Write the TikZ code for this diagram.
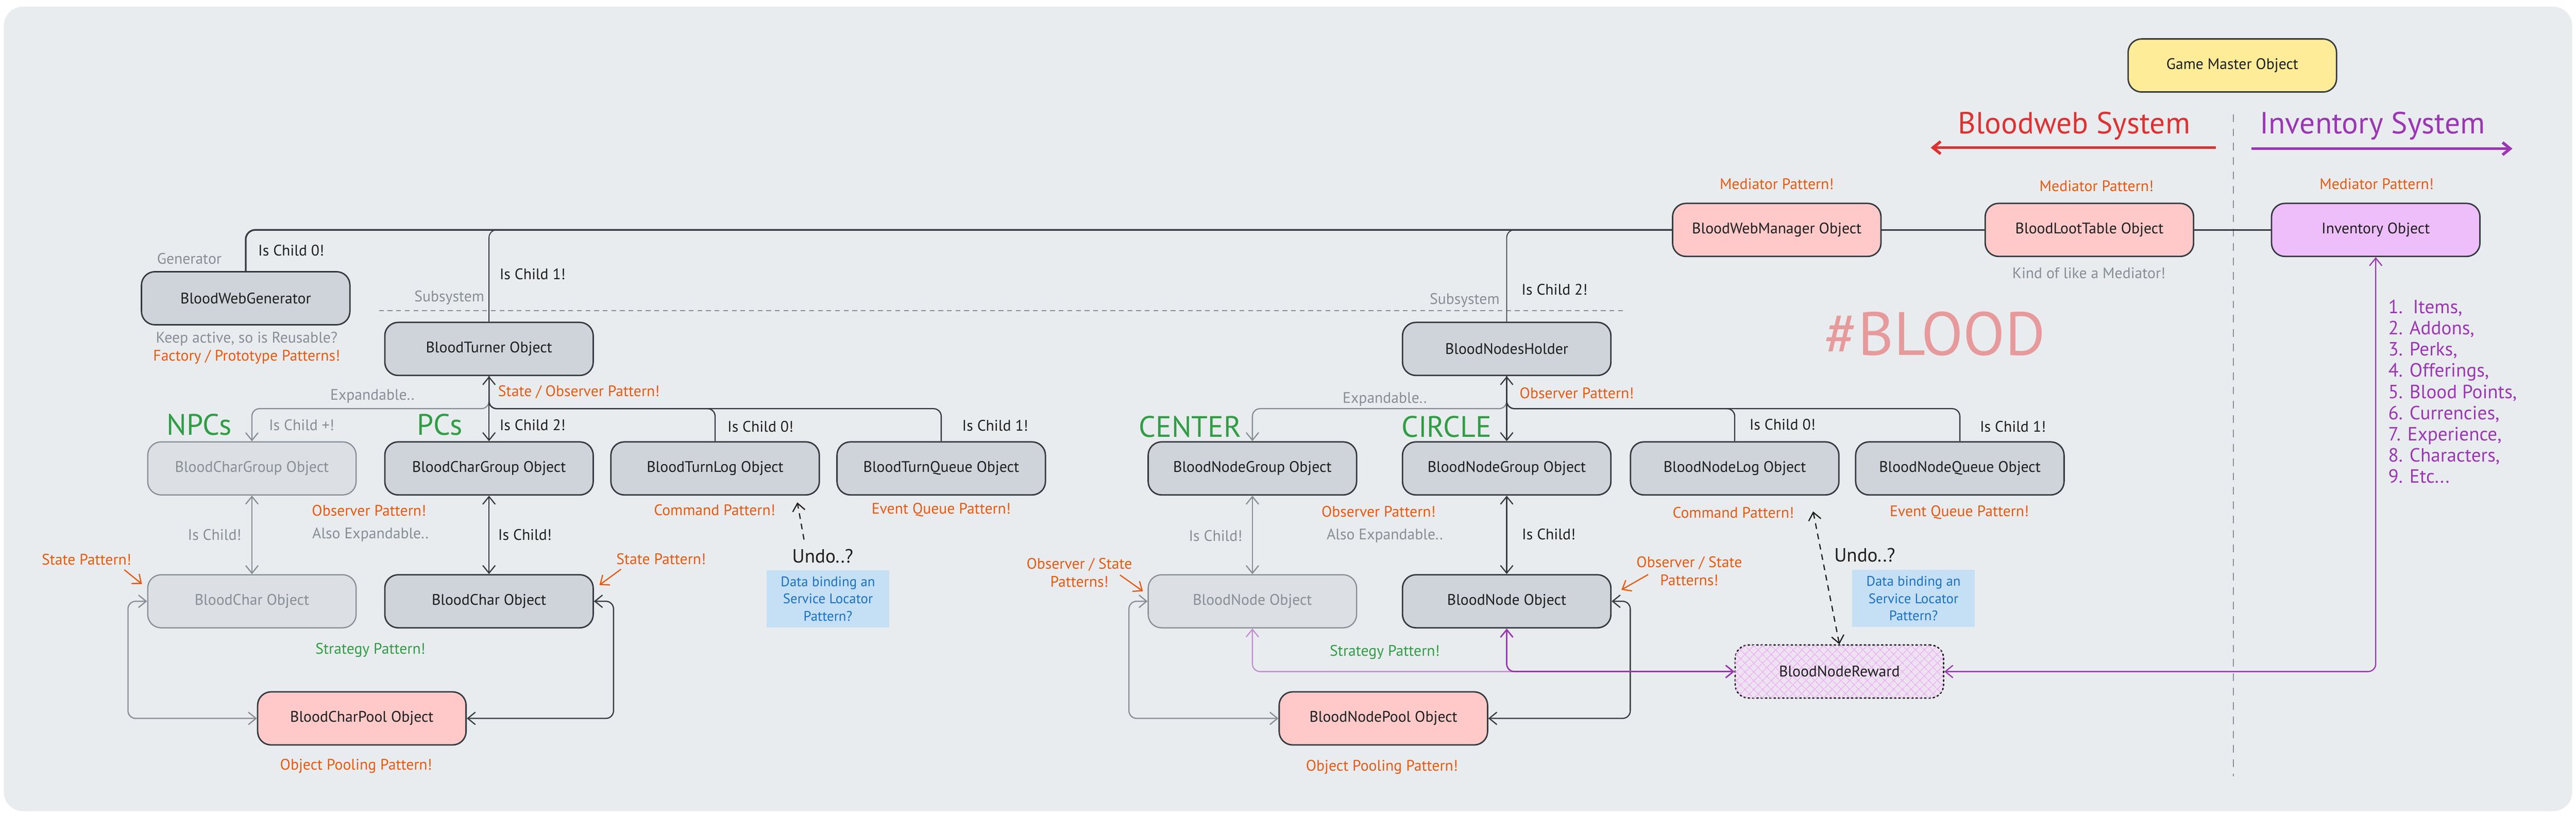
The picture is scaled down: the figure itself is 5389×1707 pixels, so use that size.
\documentclass[tikz,border=0pt]{standalone}
\usepackage{fontspec}
\setmainfont{PT Sans}
\usetikzlibrary{arrows.meta,patterns.meta,calc}
\definecolor{panel}{HTML}{E9ECEF}
\definecolor{dk}{HTML}{343A40}
\definecolor{txt}{HTML}{1E1E1E}
\definecolor{boxfill}{HTML}{CED4DA}
\definecolor{ghostfill}{HTML}{DCDFE3}
\definecolor{gr}{HTML}{868E96}
\definecolor{pinkfill}{HTML}{FFC9C9}
\definecolor{yel}{HTML}{FFEC99}
\definecolor{purpfill}{HTML}{EEBEFA}
\definecolor{hatch}{HTML}{EDAFF7}
\definecolor{purp}{HTML}{9C36B5}
\definecolor{lpurp}{HTML}{C38ED2}
\definecolor{orng}{HTML}{E8590C}
\definecolor{grn}{HTML}{2F9E44}
\definecolor{redt}{HTML}{E03131}
\definecolor{bluet}{HTML}{1971C2}
\definecolor{bluefill}{HTML}{C5DFF5}
\definecolor{bloodc}{HTML}{E79A9B}
\definecolor{rewardfill}{HTML}{EDE3F0}
\newcommand\fsz[2]{\fontsize{#1}{#2}\selectfont}
\begin{document}
\begin{tikzpicture}[x=1pt,y=-1pt,
  >={Straight Barb[length=16pt,width=26pt]},
  box/.style={rectangle, rounded corners=28pt, minimum width=436pt, minimum height=111pt,
    draw=dk, line width=3pt, fill=boxfill, text=txt, font=\fsz{32}{38}, inner sep=0pt},
  ghost/.style={box, draw=gr, fill=ghostfill, text=gr, line width=2.5pt},
  pinkbox/.style={box, fill=pinkfill},
  lbl/.style={font=\fsz{32}{38}, text=txt, inner sep=0pt},
  glbl/.style={lbl, text=gr},
  olbl/.style={lbl, text=orng},
  biglbl/.style={font=\fsz{62}{68}, text=grn, inner sep=0pt},
  conn/.style={draw=dk, line width=2.5pt, rounded corners=16pt},
  gconn/.style={draw=gr, line width=2.5pt, rounded corners=16pt},
  busline/.style={draw=dk, line width=3.5pt, rounded corners=20pt},
  oarrow/.style={draw=orng, line width=2.5pt, ->},
  dasharrow/.style={draw=txt, line width=2.5pt, dash pattern=on 12pt off 10pt},
  note/.style={fill=bluefill, text=bluet, minimum width=256pt, minimum height=120pt,
    align=center, font=\fsz{29}{36}, inner sep=0pt}
]
\useasboundingbox (0,0) rectangle (5389,1707);
\fill[white] (0,0) rectangle (5389,1707);
\fill[panel, rounded corners=40pt] (8,14) rectangle (5381,1697);

% ---------- nodes ----------
\node[box] (gen) at (514,624) {BloodWebGenerator};
\node[box] (turner) at (1023,730) {BloodTurner Object};
\node[box] (holder) at (3152,730) {BloodNodesHolder};
\node[ghost] (npcgroup) at (527,980) {BloodCharGroup Object};
\node[box] (pcgroup) at (1023,980) {BloodCharGroup Object};
\node[box] (turnlog) at (1496,980) {BloodTurnLog Object};
\node[box] (turnqueue) at (1969,980) {BloodTurnQueue Object};
\node[ghost] (npcchar) at (527,1258) {BloodChar Object};
\node[box] (pcchar) at (1023,1258) {BloodChar Object};
\node[pinkbox] (charpool) at (757,1503) {BloodCharPool Object};
\node[box] (centergroup) at (2620,980) {BloodNodeGroup Object};
\node[box] (circlegroup) at (3152,980) {BloodNodeGroup Object};
\node[box] (nodelog) at (3629,980) {BloodNodeLog Object};
\node[box] (nodequeue) at (4100,980) {BloodNodeQueue Object};
\node[ghost] (nodegrey) at (2620,1258) {BloodNode Object};
\node[box] (nodedark) at (3152,1258) {BloodNode Object};
\node[pinkbox] (nodepool) at (2894,1503) {BloodNodePool Object};
\node[pinkbox] (manager) at (3717,481) {BloodWebManager Object};
\node[pinkbox] (loot) at (4371,481) {BloodLootTable Object};
\node[box, fill=purpfill] (inventory) at (4970,481) {Inventory Object};
\node[box, fill=yel] (master) at (4670,137) {Game Master Object};
\node[box, draw=txt, dash pattern=on 3pt off 6pt, line cap=round, fill=rewardfill,
  postaction={pattern={Lines[angle=45,distance=13pt,line width=1.6pt]}, pattern color=hatch},
  postaction={pattern={Lines[angle=-45,distance=13pt,line width=1.6pt]}, pattern color=hatch}]
  (reward) at (3848,1405) {BloodNodeReward};
\node[note] (note1) at (1732,1253) {Data binding an\\Service Locator\\Pattern?};
\node[note] (note2) at (4003,1252) {Data binding an\\Service Locator\\Pattern?};

% ---------- separators ----------
\draw[gr, line width=3pt, dash pattern=on 10pt off 8pt] (793,650) -- (3396,650);
\draw[gr, line width=2pt, dash pattern=on 16pt off 14pt] (4672,239) -- (4672,1624);

% ---------- top bus ----------
\coordinate (busR) at (manager.west);
\draw[busline] (gen.north) |- (busR);
\draw[conn, line width=2pt] (turner.north) |- ($(turner.north |- busR)+(60,0)$);
\draw[conn, line width=2pt] (holder.north) |- ($(holder.north |- busR)+(60,0)$);
\draw[busline] (manager.east) -- (loot.west);
\draw[busline] (loot.east) -- (inventory.west);

% ---------- left tree ----------
\coordinate (j1) at (1023,855);
\draw[gconn, ->] ($(j1)+(0,-25)$) |- (npcgroup.north |- j1) -- (npcgroup.north);
\draw[conn] (turner.south) |- (turnlog.north |- j1) -- (turnlog.north);
\draw[conn] (turner.south) |- (turnqueue.north |- j1) -- (turnqueue.north);
\draw[conn, <->] (turner.south) -- (pcgroup.north);
\draw[gconn, <->] (npcgroup.south) -- (npcchar.north);
\draw[conn, <->] (pcgroup.south) -- (pcchar.north);
\draw[gconn, <->] (npcchar.west) -- ++(-40,0) |- (charpool.west);
\draw[conn, <->] (pcchar.east) -- ++(41,0) |- (charpool.east);

% ---------- right tree ----------
\coordinate (j2) at (3152,855);
\draw[gconn, ->] ($(j2)+(0,-25)$) |- (centergroup.north |- j2) -- (centergroup.north);
\draw[conn] (holder.south) |- (nodelog.north |- j2) -- (nodelog.north);
\draw[conn] (holder.south) |- (nodequeue.north |- j2) -- (nodequeue.north);
\draw[conn, <->] (holder.south) -- (circlegroup.north);
\draw[gconn, <->] (centergroup.south) -- (nodegrey.north);
\draw[conn, <->] (circlegroup.south) -- (nodedark.north);
\draw[gconn, <->] (nodegrey.west) -- ++(-39,0) |- (nodepool.west);
\draw[conn, <->] (nodedark.east) -- ++(39,0) |- (nodepool.east);

% ---------- purple links ----------
\draw[lpurp, line width=2.5pt, rounded corners=16pt, <->] (nodegrey.south) |- (reward.west);
\draw[purp, line width=3pt, rounded corners=16pt, <->] (nodedark.south) |- (reward.west);
\draw[purp, line width=2.5pt, rounded corners=16pt, <->] (inventory.south) |- (reward.east);

% ---------- dashed undo arrows ----------
\coordinate (u1a) at (1682,1129);
\coordinate (u1b) at (1668,1051);
\draw[dasharrow, ->] (u1a) -- (u1b);
\coordinate (u2a) at (3793,1070);
\draw[dasharrow, <->] (u2a) -- (reward.north);

% ---------- system arrows ----------
\coordinate (ra) at (4636,309);
\coordinate (rb) at (4039,309);
\draw[redt, line width=6pt, ->] (ra) -- (rb);
\coordinate (pa) at (4710,311);
\coordinate (pb) at (5256,311);
\draw[purp, line width=6pt, ->] (pa) -- (pb);

% ---------- orange pointer arrows ----------
\coordinate (o1a) at (260,1192); \coordinate (o1b) at (297,1222);
\draw[oarrow] (o1a) -- (o1b);
\coordinate (o2a) at (1299,1191); \coordinate (o2b) at (1254,1224);
\draw[oarrow] (o2a) -- (o2b);
\coordinate (o3a) at (2343,1203); \coordinate (o3b) at (2391,1237);
\draw[oarrow] (o3a) -- (o3b);
\coordinate (o4a) at (3448,1202); \coordinate (o4b) at (3392,1234);
\draw[oarrow] (o4a) -- (o4b);

% ---------- labels ----------
\node[glbl] (t1) at (396,541) {Generator};
\node[lbl, anchor=west] (t2) at (540,524) {Is Child 0!};
\node[lbl, anchor=west] (t3) at (1045,574) {Is Child 1!};
\node[glbl] (t4) at (940,623) {Subsystem};
\node[glbl] (t5) at (3064,628) {Subsystem};
\node[lbl, anchor=west] (t6) at (3183,606) {Is Child 2!};
\node[glbl] (t7) at (516,709) {Keep active, so is Reusable?};
\node[olbl] (t8) at (516,747) {Factory / Prototype Patterns!};
\node[olbl, anchor=west] (t9) at (1042,820) {State / Observer Pattern!};
\node[glbl] (t10) at (779,829) {Expandable..};
\node[glbl] (t11) at (2897,835) {Expandable..};
\node[biglbl] (t12) at (417,889) {NPCs};
\node[biglbl] (t13) at (920,888) {PCs};
\node[glbl] (t14) at (631,889) {Is Child +!};
\node[lbl, anchor=west] (t15) at (1045,889) {Is Child 2!};
\node[lbl] (t16) at (1591,893) {Is Child 0!};
\node[lbl] (t17) at (2082,890) {Is Child 1!};
\node[olbl] (t18) at (1495,1067) {Command Pattern!};
\node[olbl] (t19) at (1969,1067) {Event Queue Pattern!};
\node[olbl] (t20) at (772,1068) {Observer Pattern!};
\node[glbl] (t21) at (449,1119) {Is Child!};
\node[glbl] (t22) at (775,1119) {Also Expandable..};
\node[lbl, anchor=west] (t23) at (1042,1119) {Is Child!};
\node[olbl] (t24) at (181,1171) {State Pattern!};
\node[olbl] (t25) at (1383,1170) {State Pattern!};
\node[lbl, font=\fsz{40}{44}] (t26) at (1721,1163) {Undo..?};
\node[lbl, text=grn] (t27) at (775,1360) {Strategy Pattern!};
\node[olbl] (t28) at (745,1603) {Object Pooling Pattern!};
\node[olbl, anchor=west] (t29) at (3179,823) {Observer Pattern!};
\node[biglbl] (t30) at (2490,893) {CENTER};
\node[biglbl] (t31) at (3026,893) {CIRCLE};
\node[lbl] (t32) at (3729,888) {Is Child 0!};
\node[lbl] (t33) at (4211,893) {Is Child 1!};
\node[olbl] (t34) at (2884,1070) {Observer Pattern!};
\node[olbl] (t35) at (3626,1072) {Command Pattern!};
\node[olbl] (t36) at (4099,1072) {Event Queue Pattern!};
\node[glbl] (t37) at (2543,1121) {Is Child!};
\node[glbl] (t38) at (2897,1121) {Also Expandable..};
\node[lbl] (t39) at (3240,1118) {Is Child!};
\node[olbl, align=center] (t40) at (2258,1198) {Observer / State\\Patterns!};
\node[olbl, align=center] (t41) at (3534,1195) {Observer / State\\Patterns!};
\node[lbl, font=\fsz{40}{44}] (t42) at (3901,1161) {Undo..?};
\node[lbl, text=grn] (t43) at (2897,1365) {Strategy Pattern!};
\node[olbl] (t44) at (2891,1605) {Object Pooling Pattern!};
\node[font=\fsz{128}{136}, text=bloodc, inner sep=0pt] (t45) at (4048,698) {\#BLOOD};
\node[olbl] (t46) at (3717,385) {Mediator Pattern!};
\node[olbl] (t47) at (4386,389) {Mediator Pattern!};
\node[olbl] (t48) at (4972,385) {Mediator Pattern!};
\node[glbl] (t49) at (4370,571) {Kind of like a Mediator!};
\node[font=\fsz{64}{70}, text=redt, inner sep=0pt] (t50) at (4339,263) {Bloodweb System};
\node[font=\fsz{64}{70}, text=purp, inner sep=0pt] (t51) at (4963,263) {Inventory System};
\node[anchor=north west, align=left, font=\fsz{40}{44.4}, text=purp, inner sep=0pt] (t52) at (4996,627)
  {1.\ \ Items,\\2. Addons,\\3. Perks,\\4. Offerings,\\5. Blood Points,\\6. Currencies,\\7. Experience,\\8. Characters,\\9. Etc...};
\end{tikzpicture}
\end{document}
